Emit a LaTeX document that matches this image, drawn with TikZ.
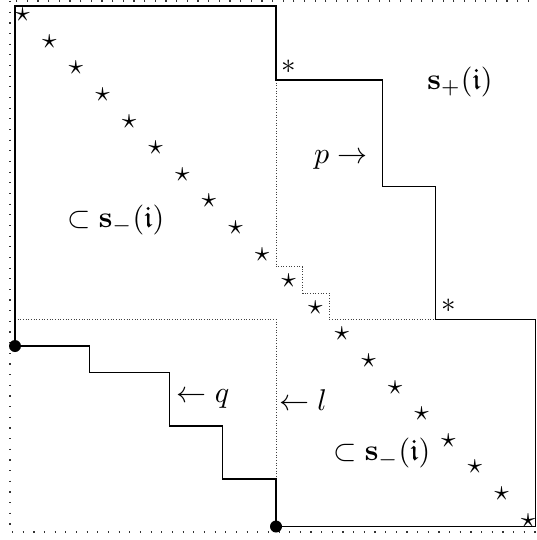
\documentclass[tikz,border=0pt]{standalone}
\usepackage{amssymb}
\begin{document}
\begin{tikzpicture}[x=0.5pt,y=-0.5pt,
  solidline/.style={line width=0.7pt, black, line join=miter},
  finedots/.style={line width=0.5pt, black!75, dash pattern=on 0.5pt off 0.83pt},
  framedots/.style={line width=0.6pt, black!80, dash pattern=on 0.6pt off 4.73pt},
  lbl/.style={anchor=base, inner sep=0pt, scale=1.5},
  glyph/.style={anchor=center, inner sep=0pt, scale=1.45},
  bigdot/.style={circle, fill=black, inner sep=0pt, minimum size=6pt}
]
\useasboundingbox (0,0) rectangle (536,540);
% outer dotted frame
\draw[framedots] (10,1) rectangle (538,532);
% corner points
\coordinate (tl) at (15,6);
\coordinate (tr) at (276,6);
\coordinate (a1) at (276,80);
\coordinate (a2) at (382.3,80);
\coordinate (a3) at (382.3,186.7);
\coordinate (a4) at (435.3,186.7);
\coordinate (a5) at (435.3,319.3);
\coordinate (a6) at (535.5,319.3);
\coordinate (br) at (535.5,526.5);
\coordinate (b1) at (276,479);
\coordinate (b2) at (222.7,479);
\coordinate (b3) at (222.7,426);
\coordinate (b4) at (169.3,426);
\coordinate (b5) at (169.3,372.3);
\coordinate (b6) at (89.3,372.3);
\coordinate (b7) at (89.3,346);
\coordinate (dlc) at (15,346);
\coordinate (dbc) at (276,526.5);
% dotted inner lines
\draw[finedots] (15,319.3) -- (276,319.3) -- (b1);
\draw[finedots] (a1) -- (276,266.7) -- (302.7,266.7) -- (302.7,293.3)
  -- (329.3,293.3) -- (329.3,319.3) -- (a5);
% solid outline
\draw[solidline] (dlc) -- (tl) -- (tr) -- (a1) -- (a2) -- (a3) -- (a4)
  -- (a5) -- (a6) -- (br) -- (dbc) -- (b1) -- (b2) -- (b3) -- (b4)
  -- (b5) -- (b6) -- (b7) -- cycle;
\node[bigdot] (dl) at (dlc) {};
\node[bigdot] (db) at (dbc) {};
% stars
\foreach \k in {0,...,19}
  \node[glyph] (s\k) at ({22.7+26.6*\k},{15+26.6*\k}) {$\star$};
% asterisks
\node[glyph] (ast1) at (289,66.7) {$*$};
\node[glyph] (ast2) at (448.7,306) {$*$};
% labels
\node[lbl] (splus) at (460,89.2) {$\mathbf{s}_+(\mathfrak{i})$};
\node[lbl] (parr) at (340.8,163.5) {$p\rightarrow$};
\node[lbl] (sm1) at (115.8,227) {$\subset\mathbf{s}_-(\mathfrak{i})$};
\node[lbl] (sm2) at (381.7,460.5) {$\subset\mathbf{s}_-(\mathfrak{i})$};
\node[lbl] (qarr) at (203,402.5) {$\leftarrow q$};
\node[lbl] (larr) at (303,410) {$\leftarrow l$};
\end{tikzpicture}
\end{document}
